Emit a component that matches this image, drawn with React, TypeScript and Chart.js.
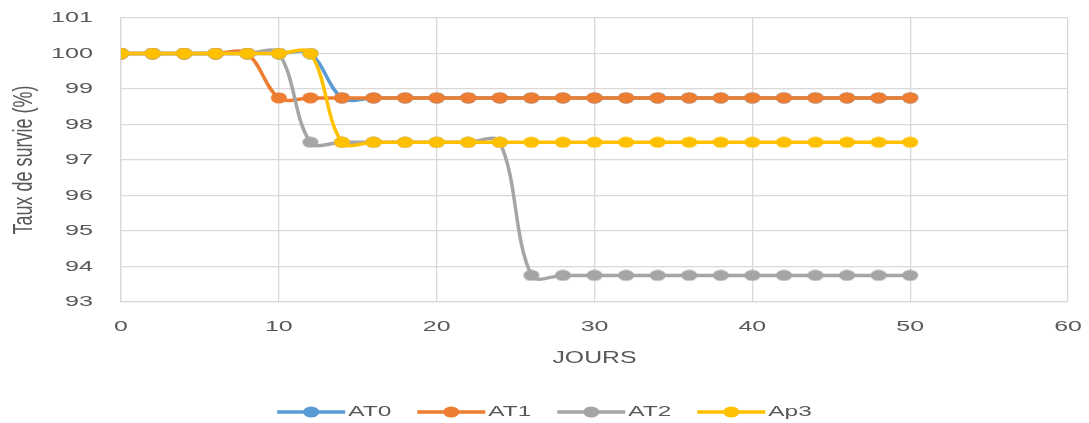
import React, { useEffect, useRef } from "react";
import { Chart, registerables } from "chart.js";

Chart.register(...registerables);

// Survival rate (%) per treatment, sampled every 2 days
const days = [0, 2, 4, 6, 8, 10, 12, 14, 16, 18, 20, 22, 24, 26, 28, 30, 32, 34, 36, 38, 40, 42, 44, 46, 48, 50];
const at0 = [100, 100, 100, 100, 100, 100, 100, 98.75, 98.75, 98.75, 98.75, 98.75, 98.75, 98.75, 98.75, 98.75, 98.75, 98.75, 98.75, 98.75, 98.75, 98.75, 98.75, 98.75, 98.75, 98.75];
const at1 = [100, 100, 100, 100, 100, 98.75, 98.75, 98.75, 98.75, 98.75, 98.75, 98.75, 98.75, 98.75, 98.75, 98.75, 98.75, 98.75, 98.75, 98.75, 98.75, 98.75, 98.75, 98.75, 98.75, 98.75];
const at2 = [100, 100, 100, 100, 100, 100, 97.5, 97.5, 97.5, 97.5, 97.5, 97.5, 97.5, 93.75, 93.75, 93.75, 93.75, 93.75, 93.75, 93.75, 93.75, 93.75, 93.75, 93.75, 93.75, 93.75];
const ap3 = [100, 100, 100, 100, 100, 100, 100, 97.5, 97.5, 97.5, 97.5, 97.5, 97.5, 97.5, 97.5, 97.5, 97.5, 97.5, 97.5, 97.5, 97.5, 97.5, 97.5, 97.5, 97.5, 97.5];

const seriesNames = ["AT0", "AT1", "AT2", "Ap3"];
const seriesValues = [at0, at1, at2, ap3];
const seriesColors = ["#5B9BD5", "#ED7D31", "#A5A5A5", "#FFC000"];

const xTitle = "JOURS";
const yTitle = "Taux de survie (%)";
const xRange = [0, 60, 10];
const yRange = [93, 101, 1];

const TEXT_COLOR = "#595959";
const GRID_COLOR = "#D9D9D9";
const FONT_FAMILY = '"Liberation Sans", Arial, sans-serif';

function makeDot(color: string): HTMLCanvasElement {
  const c = document.createElement("canvas");
  c.width = 18;
  c.height = 12;
  const g = c.getContext("2d")!;
  g.fillStyle = color;
  g.beginPath();
  g.ellipse(9, 6, 8, 5.5, 0, 0, Math.PI * 2);
  g.fill();
  return c;
}

function drawText(
  ctx: CanvasRenderingContext2D,
  text: string,
  x: number,
  y: number,
  size: number,
  sx: number,
  align: CanvasTextAlign,
  rotate = false
) {
  ctx.save();
  ctx.translate(x, y);
  ctx.scale(sx, 1);
  if (rotate) ctx.rotate(-Math.PI / 2);
  ctx.font = `${size}px ${FONT_FAMILY}`;
  ctx.fillStyle = TEXT_COLOR;
  ctx.textAlign = align;
  ctx.textBaseline = "middle";
  ctx.fillText(text, 0, 0);
  ctx.restore();
}

// Axis labels, titles and legend drawn with a wide horizontal stretch
const textPlugin = {
  id: "stretchedText",
  afterDraw(chart: any) {
    const ctx: CanvasRenderingContext2D = chart.ctx;
    const area = chart.chartArea;
    const xs = chart.scales.x;
    const ys = chart.scales.y;

    ys.ticks.forEach((t: any) => {
      drawText(ctx, String(t.value), area.left - 28, ys.getPixelForValue(t.value), 15, 1.68, "right");
    });
    xs.ticks.forEach((t: any) => {
      drawText(ctx, String(t.value), xs.getPixelForValue(t.value), area.bottom + 25, 14, 1.78, "center");
    });
    drawText(ctx, xTitle, (area.left + area.right) / 2, area.bottom + 57, 16, 1.55, "center");
    drawText(ctx, yTitle, 25, (area.top + area.bottom) / 2, 18, 1.5, "center", true);

    // legend row
    const lineW = 68;
    const gap = 3;
    const spacing = 26;
    const legSize = 15;
    const legSx = 1.63;
    ctx.save();
    ctx.font = `${legSize}px ${FONT_FAMILY}`;
    const widths = seriesNames.map((n) => ctx.measureText(n).width * legSx);
    ctx.restore();
    const total =
      widths.reduce((a, b) => a + b, 0) + seriesNames.length * (lineW + gap) + (seriesNames.length - 1) * spacing;
    let x = chart.width / 2 - total / 2;
    const y = 412;
    seriesNames.forEach((name, i) => {
      ctx.save();
      ctx.strokeStyle = seriesColors[i];
      ctx.lineWidth = 3.5;
      ctx.beginPath();
      ctx.moveTo(x, y);
      ctx.lineTo(x + lineW, y);
      ctx.stroke();
      ctx.fillStyle = seriesColors[i];
      ctx.beginPath();
      ctx.ellipse(x + lineW / 2, y, 8, 5.5, 0, 0, Math.PI * 2);
      ctx.fill();
      ctx.restore();
      drawText(ctx, name, x + lineW + gap, y, legSize, legSx, "left");
      x += lineW + gap + widths[i] + spacing;
    });
  },
};

export default function App() {
  const canvasRef = useRef<HTMLCanvasElement | null>(null);

  useEffect(() => {
    const canvas = canvasRef.current;
    if (!canvas) return;

    const datasets = seriesNames.map((name, i) => ({
      label: name,
      data: days.map((d, k) => ({ x: d, y: seriesValues[i][k] })),
      borderColor: seriesColors[i],
      backgroundColor: seriesColors[i],
      borderWidth: 3.5,
      borderCapStyle: "round" as const,
      borderJoinStyle: "round" as const,
      tension: 0.35,
      pointStyle: makeDot(seriesColors[i]),
      pointRadius: 6,
      pointHoverRadius: 6,
      order: seriesNames.length - 1 - i,
    }));

    const chart = new Chart(canvas, {
      type: "line",
      data: { datasets },
      options: {
        animation: false,
        responsive: false,
        events: [],
        layout: { padding: { left: 121, top: 18, right: 21, bottom: 121 } },
        plugins: {
          legend: { display: false },
          tooltip: { enabled: false },
        },
        scales: {
          x: {
            type: "linear",
            min: xRange[0],
            max: xRange[1],
            ticks: { stepSize: xRange[2], display: false },
            grid: { color: GRID_COLOR, lineWidth: 1.3, drawTicks: false },
            border: { color: GRID_COLOR, width: 1.3 },
            afterFit: (s: any) => {
              s.height = 0;
            },
          },
          y: {
            type: "linear",
            min: yRange[0],
            max: yRange[1],
            ticks: { stepSize: yRange[2], display: false },
            grid: { color: GRID_COLOR, lineWidth: 1.3, drawTicks: false },
            border: { color: GRID_COLOR, width: 1.3 },
            afterFit: (s: any) => {
              s.width = 0;
            },
          },
        },
      },
      plugins: [textPlugin],
    });

    return () => chart.destroy();
  }, []);

  return (
    <div style={{ position: "absolute", left: 0, top: 0, width: 1089, height: 423, background: "#fff" }}>
      <canvas ref={canvasRef} width={1089} height={423} style={{ display: "block" }} />
    </div>
  );
}
